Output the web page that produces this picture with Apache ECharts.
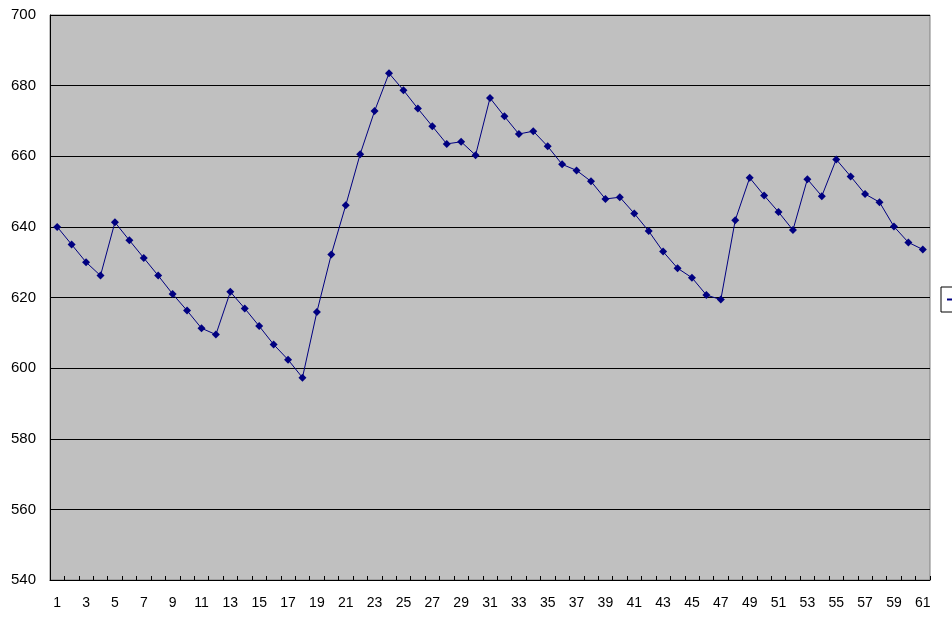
<!DOCTYPE html>
<html>
<head>
<meta charset="utf-8">
<style>html,body{margin:0;padding:0;background:#fff;}#c{width:952px;height:618px;}</style>
<script src="https://cdn.jsdelivr.net/npm/echarts@6/dist/echarts.min.js"></script>
</head>
<body>
<div id="c"></div>
<script>
const categories = Array.from({length: 61}, (_, i) => String(i + 1));
const values = [
  640.0, 635.0, 630.0, 626.2, 641.3, 636.2, 631.2, 626.2, 621.0, 616.3,
  611.3, 609.5, 621.6, 616.9, 611.9, 606.7, 602.4, 597.3, 615.9, 632.2,
  646.1, 660.6, 672.8, 683.5, 678.7, 673.5, 668.5, 663.5, 664.1, 660.3,
  676.5, 671.3, 666.3, 667.1, 662.8, 657.7, 656.0, 652.9, 647.9, 648.4,
  643.8, 638.8, 633.0, 628.3, 625.6, 620.7, 619.4, 641.9, 653.9, 648.9,
  644.2, 639.1, 653.5, 648.7, 659.1, 654.3, 649.3, 647.0, 640.1, 635.6,
  633.6
];
const yMin = 540, yMax = 700, yStep = 20;

const chart = echarts.init(document.getElementById('c'));
chart.setOption({
  animation: false,
  backgroundColor: '#ffffff',
  grid: {
    left: 50, top: 15, right: 22, bottom: 38,
    show: true, backgroundColor: '#C0C0C0', borderColor: '#808080', borderWidth: 1
  },
  legend: {
    left: 941, top: 287,
    data: ['系列1'],
    borderColor: '#000', borderWidth: 1, padding: [6, 5],
    itemWidth: 16, itemHeight: 8,
    textStyle: { fontSize: 13, color: '#000' }
  },
  xAxis: {
    type: 'category',
    data: categories,
    boundaryGap: true,
    axisLine: { show: true, lineStyle: { color: '#000', width: 1 } },
    axisTick: { show: true, inside: true, length: 4, interval: 0, lineStyle: { color: '#000' } },
    axisLabel: { interval: 1, margin: 16, color: '#000', fontSize: 14, fontFamily: 'Liberation Sans Narrow, Liberation Sans, sans-serif' },
    splitLine: { show: false }
  },
  yAxis: {
    type: 'value',
    min: yMin, max: yMax, interval: yStep,
    axisLine: { show: true, lineStyle: { color: '#000', width: 1 } },
    axisTick: { show: true, inside: true, length: 3, lineStyle: { color: '#000' } },
    axisLabel: { margin: 14, color: '#000', fontSize: 15, fontFamily: 'Liberation Sans, sans-serif' },
    splitLine: { show: true, lineStyle: { color: '#000', width: 1 } }
  },
  series: [{
    name: '系列1',
    type: 'line',
    data: values,
    symbol: 'diamond',
    symbolSize: 8,
    lineStyle: { color: '#000080', width: 1 },
    itemStyle: { color: '#000080' }
  }]
});
</script>
</body>
</html>
